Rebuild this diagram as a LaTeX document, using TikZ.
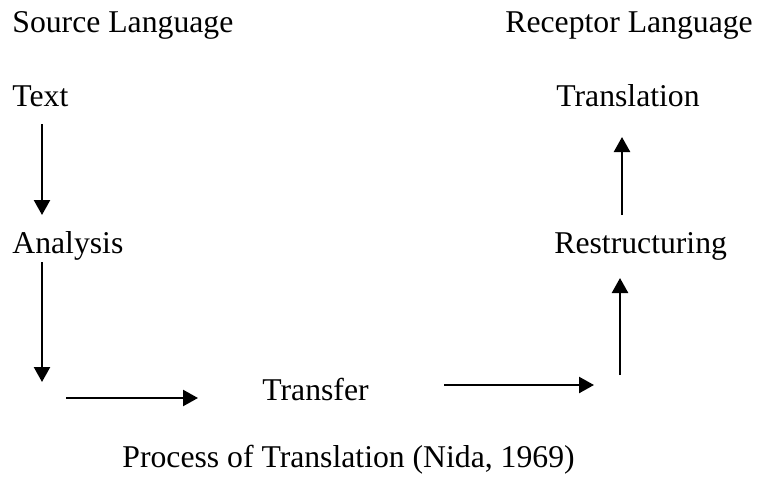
\documentclass[tikz,border=0pt]{standalone}
\usepackage{fontspec}
\setmainfont{Liberation Serif}
\usetikzlibrary{arrows.meta}
\begin{document}
\begin{tikzpicture}[x=0.5pt,y=-0.5pt,
  lbl/.style={anchor=base west,inner sep=0pt,font=\fontsize{15.85}{19}\selectfont},
  flow/.style={line width=1.2pt,-{Triangle[length=7.5pt,width=8pt]}}]
\useasboundingbox (0,0) rectangle (759,481);
\node[lbl] (src) at (12,33) {Source Language};
\node[lbl] (rec) at (505,33) {Receptor Language};
\node[lbl] (text) at (12,106) {Text};
\node[lbl] (trans) at (556,106) {Translation};
\node[lbl] (ana) at (12,253) {Analysis};
\node[lbl] (restr) at (554,253) {Restructuring};
\node[lbl] (transf) at (262,400) {Transfer};
\node[lbl] (cap) at (122,467) {Process of Translation (Nida, 1969)};
\coordinate (a1s) at (42,124); \coordinate (a1e) at (42,215);
\coordinate (a2s) at (42,262); \coordinate (a2e) at (42,382);
\coordinate (h1s) at (66,398); \coordinate (h1e) at (198,398);
\coordinate (h2s) at (444,385); \coordinate (h2e) at (594,385);
\coordinate (u1s) at (620,375); \coordinate (u1e) at (620,278);
\coordinate (u2s) at (622,215); \coordinate (u2e) at (622,137);
\draw[flow] (a1s) -- (a1e);
\draw[flow] (a2s) -- (a2e);
\draw[flow] (h1s) -- (h1e);
\draw[flow] (h2s) -- (h2e);
\draw[flow] (u1s) -- (u1e);
\draw[flow] (u2s) -- (u2e);
\end{tikzpicture}
\end{document}
